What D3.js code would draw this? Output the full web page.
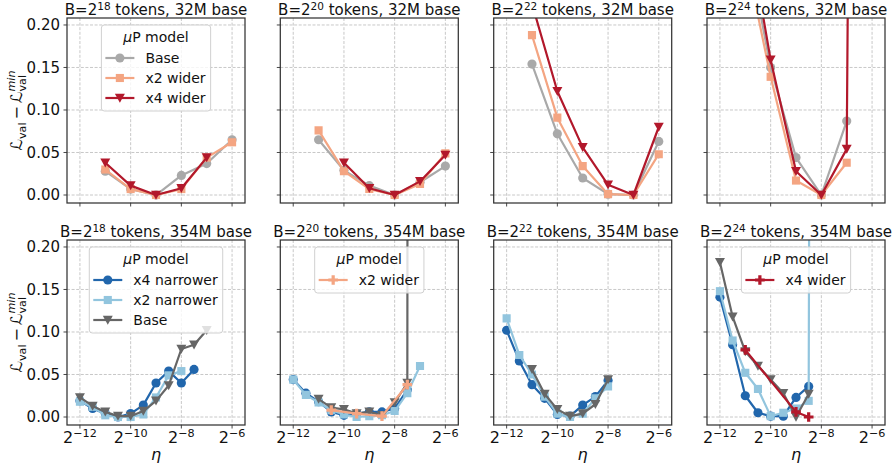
<!DOCTYPE html>
<html><head><meta charset="utf-8">
<script src="https://cdn.jsdelivr.net/npm/d3@7"></script>
<style>body{margin:0;background:#fff} text{font-family:"DejaVu Sans",sans-serif;fill:#111}</style>
</head><body><svg id="c" width="893" height="468"></svg>
<script>
// ---- data ----
// eta = 2^exponent
const topEta = [-11, -10, -9, -8, -7, -6];
const botEta = [-12, -11.5, -11, -10.5, -10, -9.5, -9, -8.5, -8, -7.5, -7];
const xTickExp = [-12, -10, -8, -6];
const yTicks = [0, 0.05, 0.10, 0.15, 0.20];
const yTickLabels = ["0.00", "0.05", "0.10", "0.15", "0.20"];
const batchExp = [18, 20, 22, 24];
const baseSizes = ["32M", "354M"];

// top row: 32M base
const b18_32_base = [0.028, 0.007, 0.000, 0.023, 0.037, 0.065];
const b18_32_x2w  = [0.030, 0.007, 0.000, 0.007, 0.044, 0.062];
const b18_32_x4w  = [0.038, 0.011, 0.000, 0.008, 0.044, null];
const b20_32_base = [0.065, 0.029, 0.011, 0.000, 0.015, 0.034];
const b20_32_x2w  = [0.076, 0.028, 0.007, 0.000, 0.013, 0.049];
const b20_32_x4w  = [null, 0.038, 0.008, 0.000, 0.016, 0.047];
const b22_32_base = [0.154, 0.072, 0.020, 0.001, 0.000, 0.063];
const b22_32_x2w  = [0.188, 0.091, 0.034, 0.001, 0.000, 0.048];
const b22_32_x4w  = [0.225, 0.122, 0.056, 0.012, 0.000, 0.080];
const b24_32_base = [0.307, 0.150, 0.044, 0.000, 0.087, null];
const b24_32_x2w  = [0.283, 0.139, 0.017, 0.000, 0.038, null];
const b24_32_x4w  = [0.331, 0.159, 0.028, 0.000, 0.054, 4.1];

// bottom row: 354M base
const b18_354_x4n  = [0.019, 0.010, 0.004, 0.000, 0.004, 0.014, 0.040, 0.054, 0.040, 0.056, null];
const b18_354_x2n  = [0.018, 0.012, 0.002, 0.000, 0.000, 0.003, 0.023, 0.049, 0.054, null, null];
const b18_354_base = [0.023, 0.013, 0.006, 0.001, 0.001, 0.007, 0.019, 0.037, 0.080, 0.085, 0.102];
const b20_354_x4n  = [0.044, 0.028, 0.018, 0.006, 0.002, 0.004, 0.006, 0.006, 0.010, 0.032, null];
const b20_354_x2n  = [0.044, 0.026, 0.017, 0.008, 0.003, 0.000, 0.001, 0.002, 0.007, 0.028, 0.060];
const b20_354_base = [null, null, 0.021, 0.011, 0.009, 0.004, 0.006, 0.002, 0.017, 0.040, 20];
const b20_354_x2w  = [null, null, null, 0.008, null, 0.004, null, 0.001, null, 0.038, null];
const b22_354_x4n  = [0.102, 0.066, 0.038, 0.022, 0.003, 0.001, 0.014, 0.024, 0.043, null, null];
const b22_354_x2n  = [0.116, 0.073, 0.050, 0.024, 0.004, 0.000, 0.004, 0.022, 0.036, null, null];
const b22_354_base = [null, null, 0.056, 0.027, 0.009, 0.001, 0.004, 0.015, 0.044, null, null];
const b24_354_x4n  = [0.141, 0.085, 0.025, 0.005, 0.001, 0.001, 0.023, 0.036, null, null, null];
const b24_354_x2n  = [0.148, 0.090, 0.052, 0.033, 0.001, 0.005, 0.010, 0.019, 6, null, null];
const b24_354_base = [0.182, 0.118, 0.077, 0.060, 0.044, 0.028, 0.000, 0.027, null, null, null];
const b24_354_x4w  = [null, null, 0.079, null, null, null, 0.006, 0.000, null, null, null];

const styles = {
  baseT: {label: "Base", color: "#a9a9a9", marker: "circle"},
  x2wT:  {label: "x2 wider", color: "#f4a582", marker: "square"},
  x4wT:  {label: "x4 wider", color: "#b2182b", marker: "tri"},
  x4n:   {label: "x4 narrower", color: "#2166ac", marker: "circle"},
  x2n:   {label: "x2 narrower", color: "#92c5de", marker: "square"},
  baseB: {label: "Base", color: "#666666", marker: "tri"},
  x2wB:  {label: "x2 wider", color: "#f4a582", marker: "plus"},
  x4wB:  {label: "x4 wider", color: "#b2182b", marker: "plus"}
};

const panels = [
  {row: 0, col: 0, eta: topEta, series: [["baseT", b18_32_base], ["x2wT", b18_32_x2w], ["x4wT", b18_32_x4w]], legend: ["baseT", "x2wT", "x4wT"]},
  {row: 0, col: 1, eta: topEta, series: [["baseT", b20_32_base], ["x2wT", b20_32_x2w], ["x4wT", b20_32_x4w]]},
  {row: 0, col: 2, eta: topEta, series: [["baseT", b22_32_base], ["x2wT", b22_32_x2w], ["x4wT", b22_32_x4w]]},
  {row: 0, col: 3, eta: topEta, series: [["baseT", b24_32_base], ["x2wT", b24_32_x2w], ["x4wT", b24_32_x4w]]},
  {row: 1, col: 0, eta: botEta, series: [["x4n", b18_354_x4n], ["x2n", b18_354_x2n], ["baseB", b18_354_base]], legend: ["x4n", "x2n", "baseB"]},
  {row: 1, col: 1, eta: botEta, series: [["x4n", b20_354_x4n], ["x2n", b20_354_x2n], ["baseB", b20_354_base], ["x2wB", b20_354_x2w]], legend: ["x2wB"]},
  {row: 1, col: 2, eta: botEta, series: [["x4n", b22_354_x4n], ["x2n", b22_354_x2n], ["baseB", b22_354_base]]},
  {row: 1, col: 3, eta: botEta, series: [["x4n", b24_354_x4n], ["x2n", b24_354_x2n], ["baseB", b24_354_base], ["x4wB", b24_354_x4w]], legend: ["x4wB"]}
];

// ---- layout ----
const svg = d3.select("#c");
const axLeft = [67, 280.3, 493.7, 707];
const axW = 178, axH = 185;
const rowTop = [18, 240];
const x = d3.scaleLog().base(2).domain([Math.pow(2, -12.51), Math.pow(2, -5.49)]).range([0, axW]);
const y = d3.scaleLinear().domain([-0.0094, 0.2082]).range([axH, 0]);
const TICK_FS = 15, XTICK_FS = 16, TITLE_FS = 15, LEG_FS = 14;

function markerPath(m) {
  if (m === "circle") return d3.symbol(d3.symbolCircle, 66)();
  if (m === "square") return d3.symbol(d3.symbolSquare, 66)();
  if (m === "tri") return "M-5,-4.3L5,-4.3L0,4.7Z";
  if (m === "plus") return d3.symbol(d3.symbolCross, 52)();
}

function supText(g, xx, yy, base, sup, post, fs, anchor) {
  const t = g.append("text").attr("x", xx).attr("y", yy).attr("font-size", fs).attr("text-anchor", anchor);
  t.append("tspan").text(base);
  t.append("tspan").attr("font-size", fs * 0.7).attr("dy", -fs * 0.36).text(sup);
  if (post) t.append("tspan").attr("dy", fs * 0.36).text(post);
  return t;
}

const defs = svg.append("defs");

panels.forEach((p, i) => {
  const g = svg.append("g").attr("transform", `translate(${axLeft[p.col]},${rowTop[p.row]})`);
  const cid = "clip" + i;
  defs.append("clipPath").attr("id", cid).append("rect").attr("width", axW).attr("height", axH);

  // grid
  const grid = g.append("g").attr("stroke", "#c2c2c2").attr("stroke-width", 0.9).attr("stroke-dasharray", "3,1.6");
  xTickExp.forEach(e => grid.append("line").attr("x1", x(Math.pow(2, e))).attr("x2", x(Math.pow(2, e))).attr("y1", 0).attr("y2", axH));
  yTicks.forEach(v => grid.append("line").attr("x1", 0).attr("x2", axW).attr("y1", y(v)).attr("y2", y(v)));

  // series
  const plot = g.append("g").attr("clip-path", `url(#${cid})`);
  p.series.forEach(([key, vals]) => {
    const st = styles[key];
    const pts = p.eta.map((e, k) => ({eta: Math.pow(2, e), v: vals[k]})).filter(d => d.v !== null);
    const line = d3.line().x(d => x(d.eta)).y(d => y(d.v));
    plot.append("path").attr("d", line(pts)).attr("fill", "none").attr("stroke", st.color)
      .attr("stroke-width", 2.2).attr("stroke-linejoin", "round");
    plot.selectAll(null).data(pts).enter().append("path")
      .attr("d", markerPath(st.marker))
      .attr("transform", d => `translate(${x(d.eta)},${y(d.v)})`)
      .attr("fill", st.color);
  });

  // spines
  g.append("rect").attr("width", axW).attr("height", axH).attr("fill", "none").attr("stroke", "#333333").attr("stroke-width", 1.25);

  // ticks
  const tk = g.append("g").attr("stroke", "#333333").attr("stroke-width", 0.9);
  xTickExp.forEach(e => tk.append("line").attr("x1", x(Math.pow(2, e))).attr("x2", x(Math.pow(2, e))).attr("y1", axH).attr("y2", axH + 3.5));
  yTicks.forEach(v => tk.append("line").attr("x1", -3.5).attr("x2", 0).attr("y1", y(v)).attr("y2", y(v)));

  if (p.col === 0) {
    yTicks.forEach((v, k) => g.append("text").attr("x", -7).attr("y", y(v)).attr("dy", "0.36em")
      .attr("text-anchor", "end").attr("font-size", TICK_FS).text(yTickLabels[k]));
  }
  if (p.row === 1) {
    xTickExp.forEach(e => supText(g, x(Math.pow(2, e)), axH + 18, "2", "\u2212" + (-e), null, XTICK_FS, "middle"));
    g.append("text").attr("x", axW / 2).attr("y", axH + 35).attr("text-anchor", "middle")
      .attr("font-size", 16).attr("font-style", "italic").text("\u03b7");
  }

  // title
  supText(g, axW / 2, -3, "B=2", String(batchExp[p.col]), ` tokens, ${baseSizes[p.row]} base`, TITLE_FS, "middle");

  // legend
  if (p.legend) {
    const lg = g.append("g");
    const top = 7;
    const rect = lg.append("rect");
    const title = lg.append("text").attr("y", top + 12).attr("dy", "0.36em").attr("text-anchor", "middle").attr("font-size", LEG_FS);
    title.append("tspan").attr("font-style", "italic").text("\u03bc");
    title.append("tspan").text("P model");
    let maxW = 0;
    const entries = p.legend.map((key, k) => {
      const t = lg.append("text").attr("y", top + 33 + 20 * k).attr("dy", "0.36em").attr("font-size", LEG_FS).text(styles[key].label);
      maxW = Math.max(maxW, t.node().getComputedTextLength());
      return t;
    });
    const w = Math.max(44 + maxW + 5, title.node().getComputedTextLength() + 12);
    const h = 33 + 20 * (p.legend.length - 1) + 13;
    const left = axW / 2 - w / 2;
    rect.attr("x", left).attr("y", top).attr("width", w).attr("height", h).attr("rx", 3)
      .attr("fill", "#fff").attr("fill-opacity", 0.8).attr("stroke", "#d0d0d0").attr("stroke-width", 1);
    title.attr("x", axW / 2);
    p.legend.forEach((key, k) => {
      const st = styles[key];
      const cy = top + 33 + 20 * k;
      lg.append("line").attr("x1", left + 4).attr("x2", left + 33).attr("y1", cy).attr("y2", cy)
        .attr("stroke", st.color).attr("stroke-width", 2.2);
      lg.append("path").attr("d", markerPath(st.marker)).attr("transform", `translate(${left + 18.5},${cy})`).attr("fill", st.color);
      entries[k].attr("x", left + 44);
    });
  }
});

// y-axis labels
function yLabel(cx, cy) {
  const g = svg.append("g").attr("transform", `translate(${cx},${cy}) rotate(-90)`);
  const inner = g.append("g");
  const fs = 16;
  let cur = 0;
  function piece(txt, size, dy, italic) {
    const t = inner.append("text").attr("x", cur).attr("y", dy).attr("font-size", size).text(txt);
    if (italic) t.attr("font-style", "italic");
    return t;
  }
  let t = piece("\u2112", fs, 0); cur += t.node().getComputedTextLength();
  t = piece("val", fs * 0.7, fs * 0.22); cur += t.node().getComputedTextLength() + 3;
  t = piece("\u2212", fs, 0); cur += t.node().getComputedTextLength() + 3;
  t = piece("\u2112", fs, 0); cur += t.node().getComputedTextLength();
  const sub = piece("val", fs * 0.7, fs * 0.22);
  const sup = piece("min", fs * 0.7, -fs * 0.42, true);
  cur += Math.max(sub.node().getComputedTextLength(), sup.node().getComputedTextLength());
  inner.attr("transform", `translate(${-cur / 2},0)`);
}
yLabel(22, rowTop[0] + axH / 2);
yLabel(22, rowTop[1] + axH / 2);
</script>
</body></html>
